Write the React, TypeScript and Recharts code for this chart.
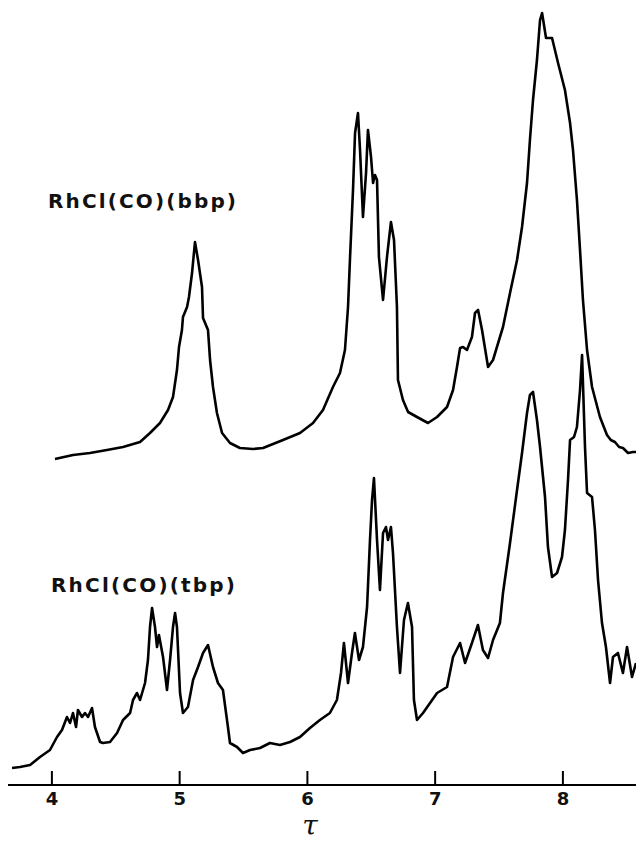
import React from "react";
import { LineChart, Line, XAxis, YAxis, Customized } from "recharts";

// τ (ppm) and relative intensity
const bbpTau = [4.024, 4.165, 4.298, 4.431, 4.557, 4.69, 4.768, 4.846, 4.909, 4.948, 4.979, 4.995, 5.018, 5.026, 5.058, 5.073, 5.097, 5.12, 5.144, 5.175, 5.183, 5.222, 5.238, 5.261, 5.292, 5.332, 5.394, 5.472, 5.574, 5.653, 5.809, 5.942, 6.044, 6.122, 6.2, 6.255, 6.294, 6.318, 6.334, 6.357, 6.373, 6.396, 6.412, 6.435, 6.459, 6.474, 6.498, 6.514, 6.529, 6.545, 6.56, 6.592, 6.623, 6.654, 6.678, 6.701, 6.709, 6.748, 6.788, 6.858, 6.944, 7.015, 7.093, 7.14, 7.171, 7.195, 7.218, 7.249, 7.288, 7.312, 7.336, 7.367, 7.414, 7.453, 7.531, 7.586, 7.641, 7.68, 7.719, 7.742, 7.766, 7.797, 7.821, 7.837, 7.868, 7.915, 7.962, 8.016, 8.056, 8.079, 8.11, 8.134, 8.157, 8.189, 8.228, 8.29, 8.345, 8.375, 8.407, 8.44, 8.47, 8.51, 8.549, 8.572];
const bbpVal = [326, 330, 332, 335, 338, 343, 352, 362, 375, 388, 415, 438, 455, 468, 478, 488, 512, 543, 525, 498, 467, 455, 425, 398, 372, 352, 342, 337, 336, 337, 345, 352, 362, 375, 398, 412, 435, 478, 528, 595, 652, 672, 635, 568, 612, 655, 628, 602, 610, 605, 528, 485, 528, 563, 545, 478, 405, 385, 373, 368, 362, 368, 378, 395, 418, 437, 438, 435, 448, 472, 475, 455, 418, 425, 458, 492, 525, 558, 602, 645, 685, 725, 765, 772, 747, 747, 722, 695, 662, 635, 585, 535, 485, 435, 398, 368, 350, 345, 343, 338, 337, 332, 333, 333];

const tbpTau = [3.688, 3.75, 3.829, 3.907, 3.985, 4.04, 4.079, 4.118, 4.142, 4.165, 4.189, 4.204, 4.236, 4.259, 4.283, 4.314, 4.337, 4.377, 4.4, 4.455, 4.51, 4.557, 4.612, 4.635, 4.666, 4.69, 4.729, 4.752, 4.768, 4.784, 4.807, 4.823, 4.838, 4.87, 4.901, 4.925, 4.948, 4.964, 4.979, 5.003, 5.026, 5.065, 5.105, 5.144, 5.183, 5.222, 5.261, 5.3, 5.339, 5.378, 5.394, 5.449, 5.496, 5.551, 5.629, 5.707, 5.785, 5.864, 5.942, 6.02, 6.098, 6.176, 6.231, 6.263, 6.286, 6.318, 6.349, 6.372, 6.404, 6.435, 6.467, 6.49, 6.506, 6.521, 6.545, 6.568, 6.592, 6.615, 6.631, 6.654, 6.67, 6.701, 6.725, 6.756, 6.787, 6.819, 6.834, 6.858, 6.905, 6.96, 7.015, 7.093, 7.14, 7.195, 7.234, 7.288, 7.335, 7.374, 7.414, 7.453, 7.507, 7.531, 7.586, 7.641, 7.68, 7.719, 7.742, 7.766, 7.797, 7.821, 7.86, 7.883, 7.915, 7.954, 7.993, 8.016, 8.04, 8.056, 8.087, 8.11, 8.134, 8.15, 8.173, 8.189, 8.228, 8.251, 8.275, 8.306, 8.337, 8.369, 8.392, 8.431, 8.47, 8.502, 8.541, 8.572];
const tbpVal = [17, 18, 20, 28, 35, 48, 55, 68, 62, 72, 58, 75, 68, 72, 68, 77, 58, 43, 42, 43, 52, 65, 72, 85, 92, 85, 102, 125, 158, 177, 158, 138, 150, 128, 95, 125, 158, 172, 158, 92, 72, 78, 105, 118, 132, 140, 118, 102, 95, 58, 42, 38, 32, 35, 37, 42, 40, 43, 48, 57, 65, 72, 85, 112, 142, 102, 132, 152, 125, 138, 178, 245, 285, 307, 245, 195, 252, 258, 245, 258, 232, 158, 112, 165, 182, 158, 85, 65, 72, 82, 92, 98, 128, 142, 122, 142, 160, 135, 127, 145, 162, 192, 242, 295, 332, 372, 390, 393, 365, 338, 288, 238, 208, 212, 228, 255, 305, 345, 348, 358, 395, 430, 338, 292, 288, 255, 205, 162, 138, 102, 128, 132, 112, 138, 108, 122];

const xTicks = [4, 5, 6, 7, 8];
const xDomain = [3.6564, 8.5722];
const yDomain = [0, 785];
const seriesLabels = ["RhCl(CO)(bbp)", "RhCl(CO)(tbp)"];
const axisTitle = "τ";

const bbpData = bbpTau.map((t, i) => ({ t, v: bbpVal[i] }));
const tbpData = tbpTau.map((t, i) => ({ t, v: tbpVal[i] }));

const Tick = (props: any) => {
  const { x, y, payload } = props;
  return (
    <g>
      <line x1={x} y1={y} x2={x} y2={y - 14} stroke="#000" strokeWidth={2} />
      <text
        x={x}
        y={y + 20}
        textAnchor="middle"
        fontFamily="DejaVu Sans"
        fontWeight="bold"
        fontSize={18}
        fill="#111"
      >
        {payload.value}
      </text>
    </g>
  );
};

const Labels = () => (
  <g>
    <text
      x={48}
      y={208}
      fontFamily="DejaVu Sans"
      fontWeight="bold"
      fontSize={20}
      fill="#111"
      textLength={188}
      lengthAdjust="spacing"
    >
      {seriesLabels[0]}
    </text>
    <text
      x={51}
      y={592}
      fontFamily="DejaVu Sans"
      fontWeight="bold"
      fontSize={20}
      fill="#111"
      textLength={184}
      lengthAdjust="spacing"
    >
      {seriesLabels[1]}
    </text>
    <text
      x={310}
      y={835}
      textAnchor="middle"
      fontFamily="DejaVu Serif"
      fontStyle="italic"
      fontSize={28}
      fill="#111"
    >
      {axisTitle}
    </text>
  </g>
);

export default function App() {
  return (
    <div style={{ position: "absolute", left: 0, top: 0, width: 636, height: 842, background: "#fff" }}>
      <LineChart width={636} height={842} margin={{ top: 0, right: 0, left: 8, bottom: 0 }}>
        <XAxis
          dataKey="t"
          type="number"
          domain={xDomain}
          ticks={xTicks}
          allowDataOverflow
          height={57}
          tickSize={0}
          tickMargin={0}
          tickLine={false}
          axisLine={{ stroke: "#000", strokeWidth: 2 }}
          tick={<Tick />}
          interval={0}
        />
        <YAxis type="number" domain={yDomain} hide allowDataOverflow />
        <Line
          data={bbpData}
          dataKey="v"
          type="linear"
          stroke="#000"
          strokeWidth={2.6}
          dot={false}
          strokeLinejoin="round"
          isAnimationActive={false}
        />
        <Line
          data={tbpData}
          dataKey="v"
          type="linear"
          stroke="#000"
          strokeWidth={2.6}
          dot={false}
          strokeLinejoin="round"
          isAnimationActive={false}
        />
        <Customized component={<Labels />} />
      </LineChart>
    </div>
  );
}
